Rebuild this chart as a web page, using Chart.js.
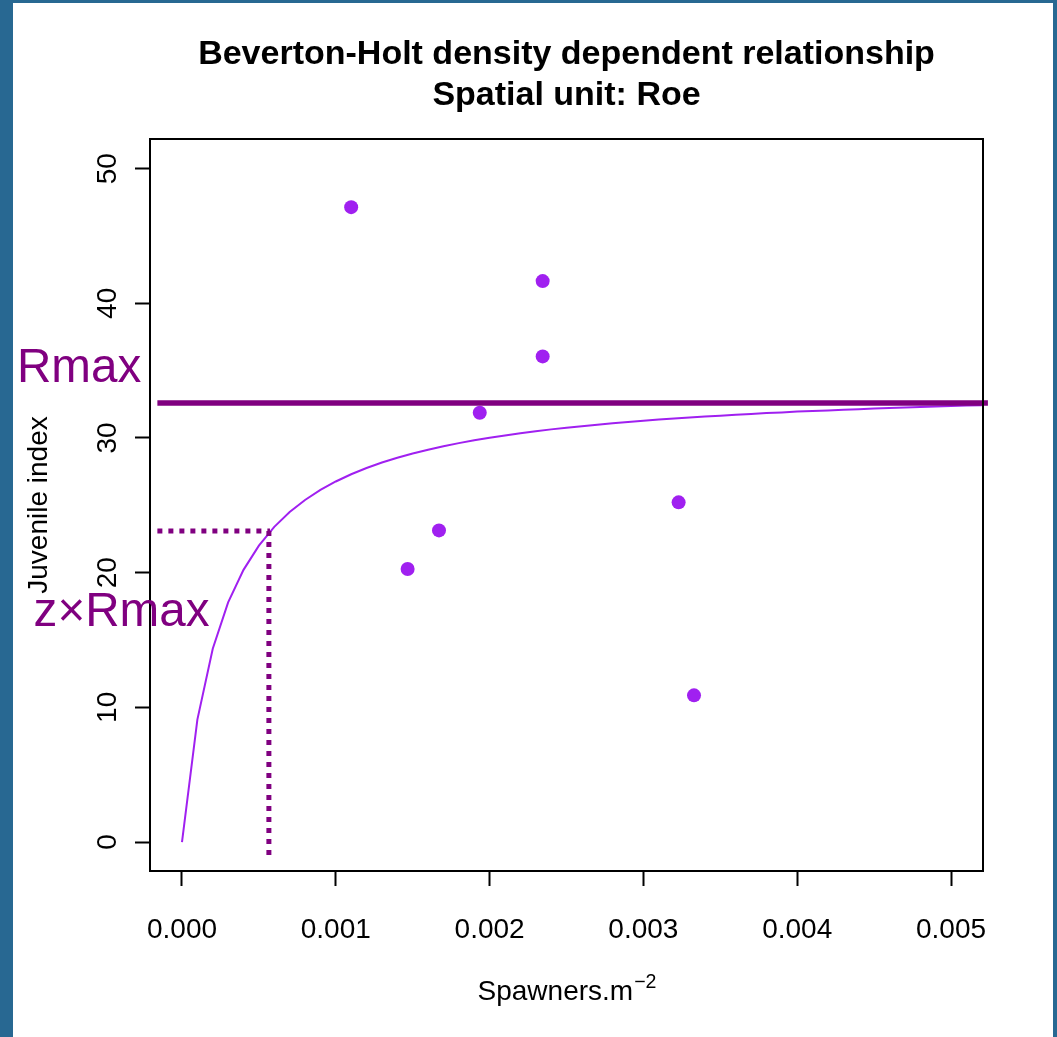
<!DOCTYPE html>
<html>
<head>
<meta charset="utf-8">
<script src="https://cdn.jsdelivr.net/npm/chart.js@4"></script>
<style>
  html, body { margin: 0; padding: 0; background: #286892; width: 1057px; height: 1037px; overflow: hidden; }
  #paper { position: absolute; left: 13px; top: 3px; width: 1040px; height: 1034px; background: #ffffff; }
  #c { position: absolute; left: 0; top: 0; }
</style>
</head>
<body>
<div id="paper"></div>
<canvas id="c" width="1057" height="1037"></canvas>
<script>
// ---- data ----
const chartTitle = ["Beverton-Holt density dependent relationship", "Spatial unit: Roe"];
const xAxisLabel = "Spawners.m";
const xAxisSup = "\u22122";
const yAxisLabel = "Juvenile index";

const xTicks = [0, 0.001, 0.002, 0.003, 0.004, 0.005];
const yTicks = [0, 10, 20, 30, 40, 50];

// observed spawners / juvenile index
const obsX = [0.00110, 0.002345, 0.002345, 0.001936, 0.001671, 0.001467, 0.003229, 0.003329];
const obsY = [47.14, 41.65, 36.06, 31.87, 23.14, 20.27, 25.22, 10.89];

// fitted Beverton-Holt curve
const fitX = [0.0000,0.0001,0.0002,0.0003,0.0004,0.0005,0.0006,0.0007,0.0008,0.0009,
              0.0010,0.0011,0.0012,0.0013,0.0014,0.0015,0.0016,0.0017,0.0018,0.0019,
              0.0020,0.0021,0.0022,0.0023,0.0024,0.0025,0.0026,0.0027,0.0028,0.0029,
              0.0030,0.0031,0.0032,0.0033,0.0034,0.0035,0.0036,0.0037,0.0038,0.0039,
              0.0040,0.0041,0.0042,0.0043,0.0044,0.0045,0.0046,0.0047,0.0048,0.0049,
              0.0050,0.0051,0.0052];
const fitY = [0.00,9.09,14.35,17.79,20.21,22.01,23.40,24.50,25.40,26.14,
              26.77,27.31,27.77,28.18,28.53,28.85,29.13,29.39,29.62,29.83,
              30.02,30.19,30.35,30.50,30.64,30.76,30.88,30.99,31.10,31.19,
              31.28,31.37,31.45,31.52,31.60,31.66,31.73,31.79,31.85,31.90,
              31.96,32.01,32.05,32.10,32.14,32.19,32.23,32.27,32.30,32.34,
              32.37,32.41,32.44];

// reference lines
const rmaxValue = 32.6;
const rmaxSpan = [-0.00016, 0.00524];
const zRmaxValue = 23.1;
const zSpawners = 0.000565;
const zHSpan = [-0.00016, 0.000572];
const zVSpan = [23.1, -1.1];

// annotation labels (data coordinates of centre / baseline)
const annoText = ["Rmax", "z\u00D7Rmax"];
const annoX = [-0.000669, -0.000393];
const annoY = [34.15, 16.04];

// ---- chart ----
const FONT = "'Liberation Sans', Arial, Helvetica, sans-serif";
Chart.defaults.font.family = FONT;
Chart.defaults.color = '#000';

const PURPLE = '#A020F0';
const DARK = '#800080';

const boxPlugin = {
  id: 'rbox',
  afterDraw(chart) {
    const {ctx, chartArea: a, scales} = chart;
    const cx = (a.left + a.right) / 2;
    ctx.save();
    ctx.strokeStyle = '#000';
    ctx.lineWidth = 2;
    ctx.strokeRect(a.left, a.top, a.right - a.left, a.bottom - a.top);
    // main title centred over the plot region
    ctx.fillStyle = '#000';
    ctx.textAlign = 'center';
    ctx.textBaseline = 'middle';
    ctx.font = 'bold 34px ' + FONT;
    for (let i = 0; i < chartTitle.length; i++) {
      ctx.fillText(chartTitle[i], cx, 55 + i * 41);
    }
    // x axis label with superscript
    ctx.textBaseline = 'alphabetic';
    ctx.font = '28px ' + FONT;
    const w1 = ctx.measureText(xAxisLabel).width;
    ctx.font = '19.6px ' + FONT;
    const w2 = ctx.measureText(xAxisSup).width;
    const x0 = cx - (w1 + w2) / 2;
    ctx.textAlign = 'left';
    ctx.font = '28px ' + FONT;
    ctx.fillText(xAxisLabel, x0, 1000);
    ctx.font = '19.6px ' + FONT;
    ctx.fillText(xAxisSup, x0 + w1 + 1, 988);
    // annotations
    ctx.fillStyle = DARK;
    ctx.font = '47.6px ' + FONT;
    ctx.textAlign = 'center';
    for (let i = 0; i < annoText.length; i++) {
      ctx.fillText(annoText[i], scales.x.getPixelForValue(annoX[i]), scales.y.getPixelForValue(annoY[i]));
    }
    ctx.restore();
  }
};

new Chart(document.getElementById('c'), {
  type: 'scatter',
  data: {
    datasets: [
      { type: 'line', data: [{x: rmaxSpan[0], y: rmaxValue}, {x: rmaxSpan[1], y: rmaxValue}],
        borderColor: DARK, borderWidth: 5.5, pointRadius: 0, clip: false, order: 0 },
      { type: 'line', data: [{x: zHSpan[0], y: zRmaxValue}, {x: zHSpan[1], y: zRmaxValue}],
        borderColor: DARK, borderWidth: 5, borderDash: [5, 6], borderCapStyle: 'butt', pointRadius: 0, clip: false, order: 0 },
      { type: 'line', data: [{x: zSpawners, y: zVSpan[0]}, {x: zSpawners, y: zVSpan[1]}],
        borderColor: DARK, borderWidth: 5, borderDash: [5, 6], borderCapStyle: 'butt', pointRadius: 0, clip: false, order: 0 },
      { type: 'line', data: fitX.map((x, i) => ({x: x, y: fitY[i]})),
        borderColor: PURPLE, borderWidth: 2, pointRadius: 0, tension: 0, fill: false, order: 1 },
      { type: 'scatter', data: obsX.map((x, i) => ({x: x, y: obsY[i]})),
        backgroundColor: PURPLE, borderWidth: 0, pointRadius: 7, order: 2 }
    ]
  },
  options: {
    responsive: false,
    animation: false,
    devicePixelRatio: 1,
    events: [],
    layout: { padding: { left: 0, right: 74, top: 139, bottom: 0 } },
    plugins: {
      legend: { display: false },
      tooltip: { enabled: false },
      title: { display: false }
    },
    scales: {
      x: {
        type: 'linear', min: -0.000208, max: 0.005208,
        afterBuildTicks: s => { s.ticks = xTicks.map(v => ({value: v})); },
        afterFit: s => { s.height = 166; },
        ticks: { callback: v => Number(v).toFixed(3), font: { size: 28 }, color: '#000', padding: 27, maxRotation: 0, autoSkip: false },
        grid: { drawOnChartArea: false, drawTicks: true, tickLength: 15, tickColor: '#000', tickWidth: 2 },
        border: { display: true, color: '#000', width: 2 }
      },
      y: {
        type: 'linear', min: -2.15, max: 52.2,
        afterBuildTicks: s => { s.ticks = yTicks.map(v => ({value: v})); },
        afterFit: s => { s.width = 150; },
        ticks: { font: { size: 28 }, color: '#000', padding: 11.5, minRotation: 90, maxRotation: 90, crossAlign: 'center', autoSkip: false },
        grid: { drawOnChartArea: false, drawTicks: true, tickLength: 15, tickColor: '#000', tickWidth: 2 },
        border: { display: true, color: '#000', width: 2 },
        title: { display: true, text: yAxisLabel, color: '#000', font: { size: 28 }, padding: { top: 22, bottom: 0 } }
      }
    }
  },
  plugins: [boxPlugin]
});
</script>
</body>
</html>
